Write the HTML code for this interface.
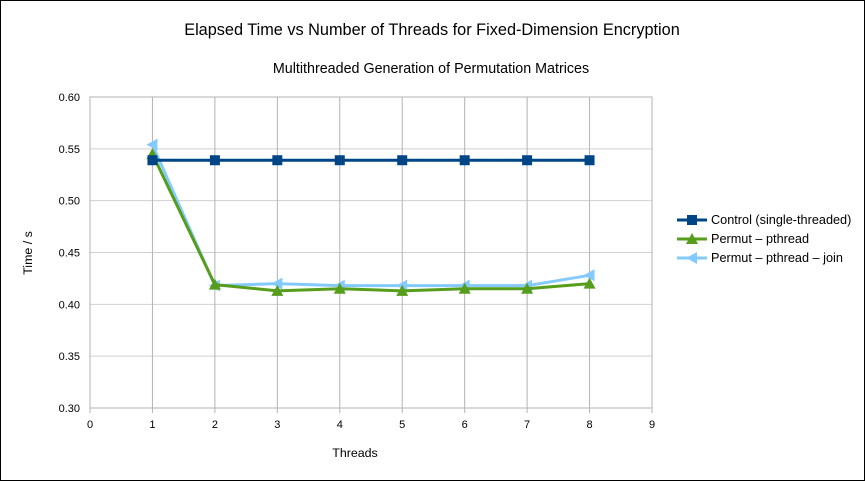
<!DOCTYPE html>
<html><head><meta charset="utf-8"><style>
body{margin:0;background:#fff}
svg{display:block;font-family:"Liberation Sans",sans-serif}
</style></head><body>
<svg id="c" width="865" height="481">
<rect x="0.5" y="0.5" width="864" height="480" fill="#fff" stroke="#000"/>
<text x="432" y="35" font-size="16.3" text-anchor="middle" fill="#000">Elapsed Time vs Number of Threads for Fixed-Dimension Encryption</text>
<text x="431" y="73" font-size="14.3" text-anchor="middle" fill="#000">Multithreaded Generation of Permutation Matrices</text>
<text x="355" y="457" font-size="12.4" text-anchor="middle">Threads</text>
<text transform="translate(32,253) rotate(-90)" font-size="12.4" text-anchor="middle">Time / s</text>
<g id="grid"></g><g id="series"></g><g id="legend"></g>
</svg>
<script>
const xTicks=[0,1,2,3,4,5,6,7,8,9];
const yTicks=[0.30,0.35,0.40,0.45,0.50,0.55,0.60];
const threads=[1,2,3,4,5,6,7,8];
const control=[0.539,0.539,0.539,0.539,0.539,0.539,0.539,0.539];
const pthread=[0.545,0.419,0.413,0.415,0.413,0.415,0.415,0.420];
const pjoin=[0.554,0.418,0.420,0.418,0.418,0.418,0.418,0.428];
const names=["Control (single-threaded)","Permut – pthread","Permut – pthread – join"];
const NS="http://www.w3.org/2000/svg";
const X0=90,X1=652,Y0=408,Y1=97;
function sx(v){return X0+(v-0)/(9-0)*(X1-X0);}
function sy(v){return Y0-(v-0.30)/(0.30)*(Y0-Y1);}
function mk(t,a,p){const e=document.createElementNS(NS,t);for(const k in a)e.setAttribute(k,a[k]);p.appendChild(e);return e;}
const g=document.getElementById('grid');
yTicks.forEach(v=>{
 const l=mk('line',{x1:X0,x2:X1,y1:sy(v),y2:sy(v),stroke:'#d0d0d0'},g);
 
 
 const t=mk('text',{x:X0-10,y:sy(v)+4,'font-size':11,'text-anchor':'end'},g);t.textContent=v.toFixed(2);
 
 
});
xTicks.forEach(v=>{
 const l=mk('line',{x1:sx(v),x2:sx(v),y1:Y1,y2:Y0+5,stroke:'#b3b3b3'},g);
 
 
 const t=mk('text',{x:sx(v),y:Y0+20,'font-size':11,'text-anchor':'middle'},g);t.textContent=v;
 
 
});
const ax=mk('rect',{x:X0,y:Y1,width:X1-X0,height:Y0-Y1,fill:'none',stroke:'#b3b3b3'},g);


function marker(type,x,y,col,p){
 let e;
 if(type==='sq')e=mk('rect',{x:x-5,y:y-5,width:10,height:10,fill:col},p);
 else if(type==='tri')e=mk('polygon',{points:`${x},${y-6} ${x-6},${y+5} ${x+6},${y+5}`,fill:col},p);
 else e=mk('polygon',{points:`${x-6},${y} ${x+5},${y-6} ${x+5},${y+6}`,fill:col},p);
 return e;
}
const S=document.getElementById('series');
const defs=[[pjoin,'#83caff','left','series-pthread-join'],[pthread,'#579d1c','tri','series-pthread'],[control,'#004586','sq','series-control']];
defs.forEach(([d,col,m,n])=>{
 const grp=mk('g',{},S);
 
 
 const pl=mk('polyline',{points:threads.map((t,i)=>sx(t)+','+sy(d[i])).join(' '),fill:'none',stroke:col,'stroke-width':3,'stroke-linejoin':'round'},grp);
 
 
 threads.forEach((t,i)=>{const e=marker(m,sx(t),sy(d[i]),col,grp);
  
  });
});
const L=document.getElementById('legend');
const ld=[['#004586','sq'],['#579d1c','tri'],['#83caff','left']];
ld.forEach(([col,m],i)=>{
 const y=220+i*19;
 const grp=mk('g',{},L);
 
 
 mk('line',{x1:677,x2:707,y1:y,y2:y,stroke:col,'stroke-width':3},grp);
 marker(m,692,y,col,grp);
 const t=mk('text',{x:711,y:y+4,'font-size':12.7},grp);t.textContent=names[i];
});
</script>
</body></html>
